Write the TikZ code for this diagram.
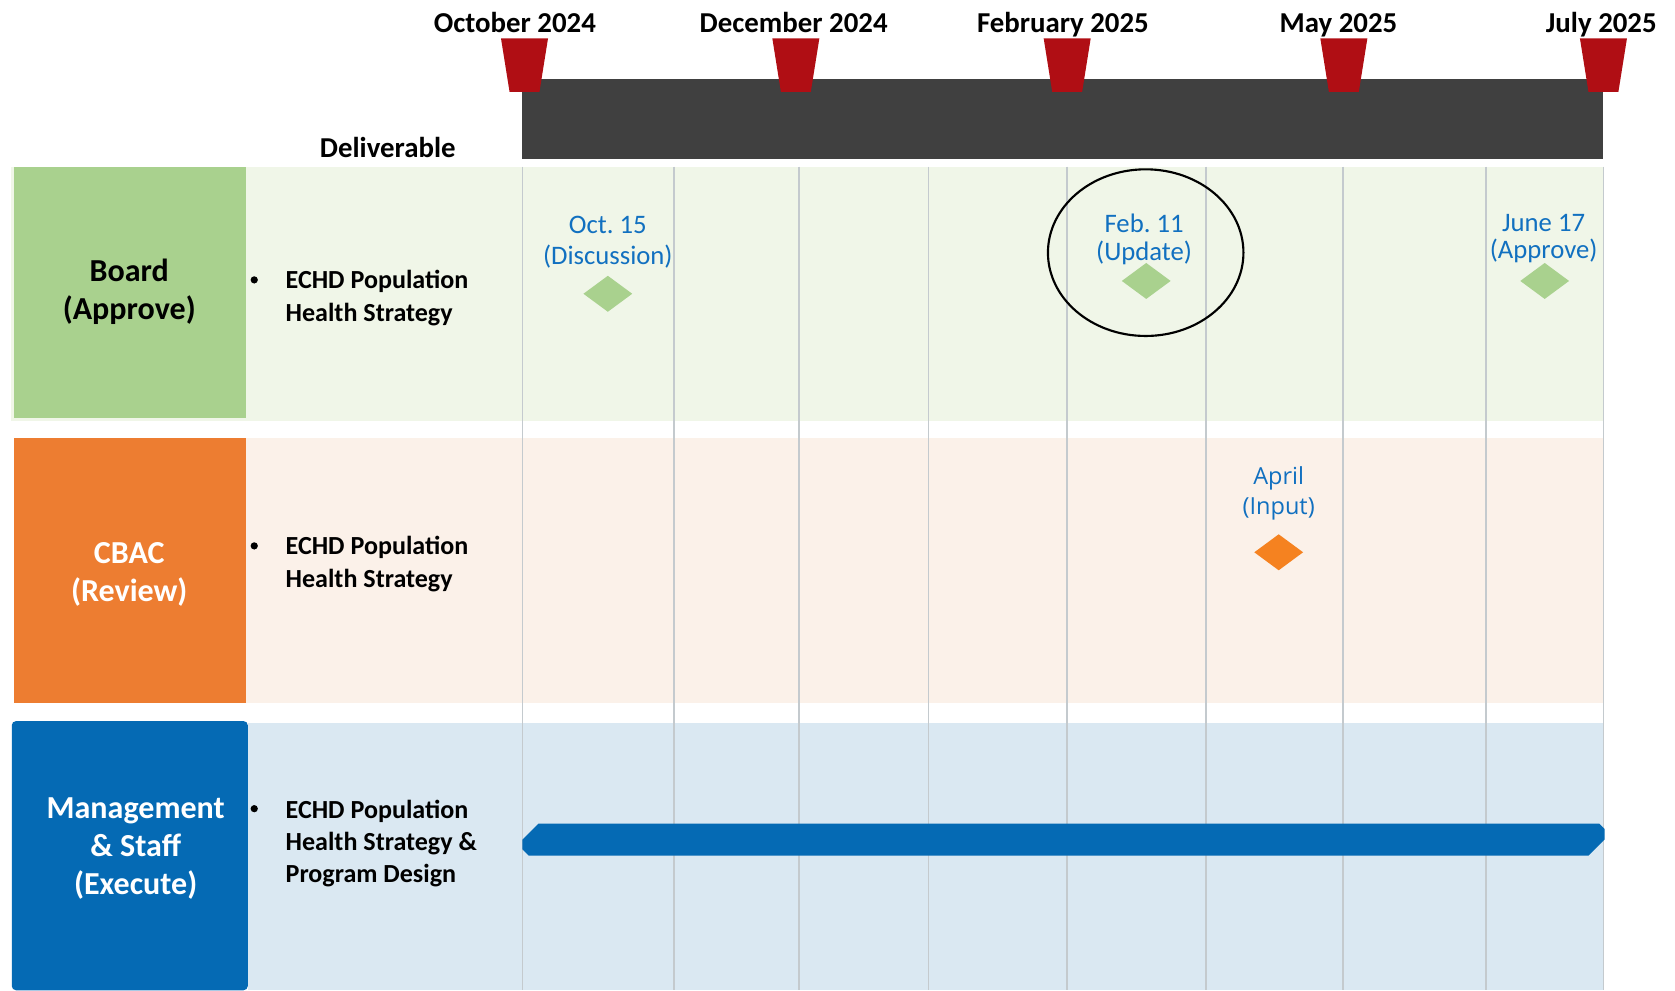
\documentclass[tikz,border=0pt]{standalone}
\usepackage{fontspec}
\setmainfont{Carlito}
\newfontfamily\opensans{Open Sans}
\usetikzlibrary{shapes.geometric}
\frenchspacing

\definecolor{darkbar}{RGB}{64,64,64}
\definecolor{markred}{RGB}{176,14,20}
\definecolor{boardgreen}{RGB}{169,209,142}
\definecolor{boardbg}{RGB}{240,246,232}
\definecolor{cbacorange}{RGB}{237,125,49}
\definecolor{cbacbg}{RGB}{251,241,233}
\definecolor{mgmtblue}{RGB}{5,106,180}
\definecolor{mgmtbg}{RGB}{218,232,242}
\definecolor{gridgray}{RGB}{196,202,206}
\definecolor{mstext}{RGB}{17,112,192}
\definecolor{diamondorange}{RGB}{245,130,32}

\begin{document}
\begin{tikzpicture}[x=0.5pt,y=-0.5pt,
  month/.style={anchor=base,inner sep=0pt,font=\fontsize{13.5pt}{16pt}\selectfont\bfseries},
  rowlabel/.style={align=center,inner sep=0pt,font=\fontsize{15pt}{17.8pt}\selectfont\bfseries},
  deliv/.style={anchor=west,align=left,inner sep=0pt,font=\fontsize{12.2pt}{15pt}\selectfont\bfseries},
  mstone/.style={align=center,text=mstext,inner sep=0pt},
  milestone/.style={diamond,inner sep=0pt,minimum width=23pt,minimum height=17pt,draw=none},
  gridline/.style={draw=gridgray,line width=0.75pt},
  bulletdot/.style={circle,fill=black,inner sep=0pt,minimum size=3.4pt},
  marker/.style={fill=markred}
]
\useasboundingbox (0,0) rectangle (1568,927);

% row backgrounds
\fill[boardbg] (10,156) rectangle (1501,394);
\fill[cbacbg]  (13,410) rectangle (1501,658);
\fill[mgmtbg]  (232,677) rectangle (1501,927);

% month grid
\foreach \gx in {489,631,748,869,999,1129,1257,1391,1501}
  \draw[gridline] (\gx,156) -- (\gx,927);

% row label boxes
\fill[boardgreen] (13,156) rectangle (230,391);
\fill[cbacorange] (13,410) rectangle (230,658);
\fill[mgmtblue,rounded corners=2pt] (11,927) -- (11,675) -- (232,675) -- (232,927) -- cycle;

% timeline header
\fill[darkbar] (489,74) rectangle (1501,149);
\foreach \mx in {491,745,999,1258,1501}
  \fill[marker] (\mx-22,36) -- (\mx+22,36) -- (\mx+14,86) -- (\mx-14,86) -- cycle;

\node[month] (m1) at (482,30)  {October 2024};
\node[month] (m2) at (743,30)  {December 2024};
\node[month] (m3) at (995,30)  {February 2025};
\node[month] (m4) at (1253,30) {May 2025};
\node[month] (m5) at (1499,30) {July 2025};
\node[month] (dl) at (363,147) {Deliverable};

% row labels
\node[rowlabel] (board) at (121,273) {Board\\(Approve)};
\node[rowlabel,text=white] (cbac) at (121,538) {CBAC\\(Review)};
\node[rowlabel,text=white] (mgmt) at (127,794) {Management\\\&~Staff\\(Execute)};

% deliverables
\node[bulletdot] (b1) at (238,262) {};
\node[bulletdot] (b2) at (238,511) {};
\node[bulletdot] (b3) at (238,757) {};
\node[deliv] (d1) at (267,279) {ECHD Population\\Health Strategy};
\node[deliv] (d2) at (267,528) {ECHD Population\\Health Strategy};
\node[deliv] (d3) at (267,790) {ECHD Population\\Health Strategy \&\\Program Design};

% milestones
\node[mstone,font=\fontsize{12.5pt}{14.5pt}\selectfont] (t1) at (569,227) {Oct. 15\\(Discussion)};
\node[milestone,fill=boardgreen] (k1) at (569,275) {};

\node[mstone,font=\fontsize{12.5pt}{12.8pt}\selectfont] (t2) at (1071,224) {Feb. 11\\(Update)};
\node[milestone,fill=boardgreen] (k2) at (1073,263) {};
\node[draw=black,line width=1pt,ellipse,minimum width=91.5pt,minimum height=78pt,inner sep=0pt] (focus) at (1072.5,236.5) {};

\node[mstone,font=\fontsize{12.5pt}{12.5pt}\selectfont] (t3) at (1445,223.5) {June 17\\(Approve)};
\node[milestone,fill=boardgreen] (k3) at (1446,263) {};

\node[mstone,font=\opensans\fontsize{11pt}{14pt}\selectfont] (t4) at (1197,462) {April\\(Input)};
\node[milestone,fill=diamondorange] (k4) at (1197,517) {};

% execution bar
\fill[mgmtblue] (504,771) -- (1497,771) -- (1502,776) -- (1502,786) -- (1487,801)
  -- (495,801) -- (489,795) -- (489,786) -- cycle;
\end{tikzpicture}
\end{document}
